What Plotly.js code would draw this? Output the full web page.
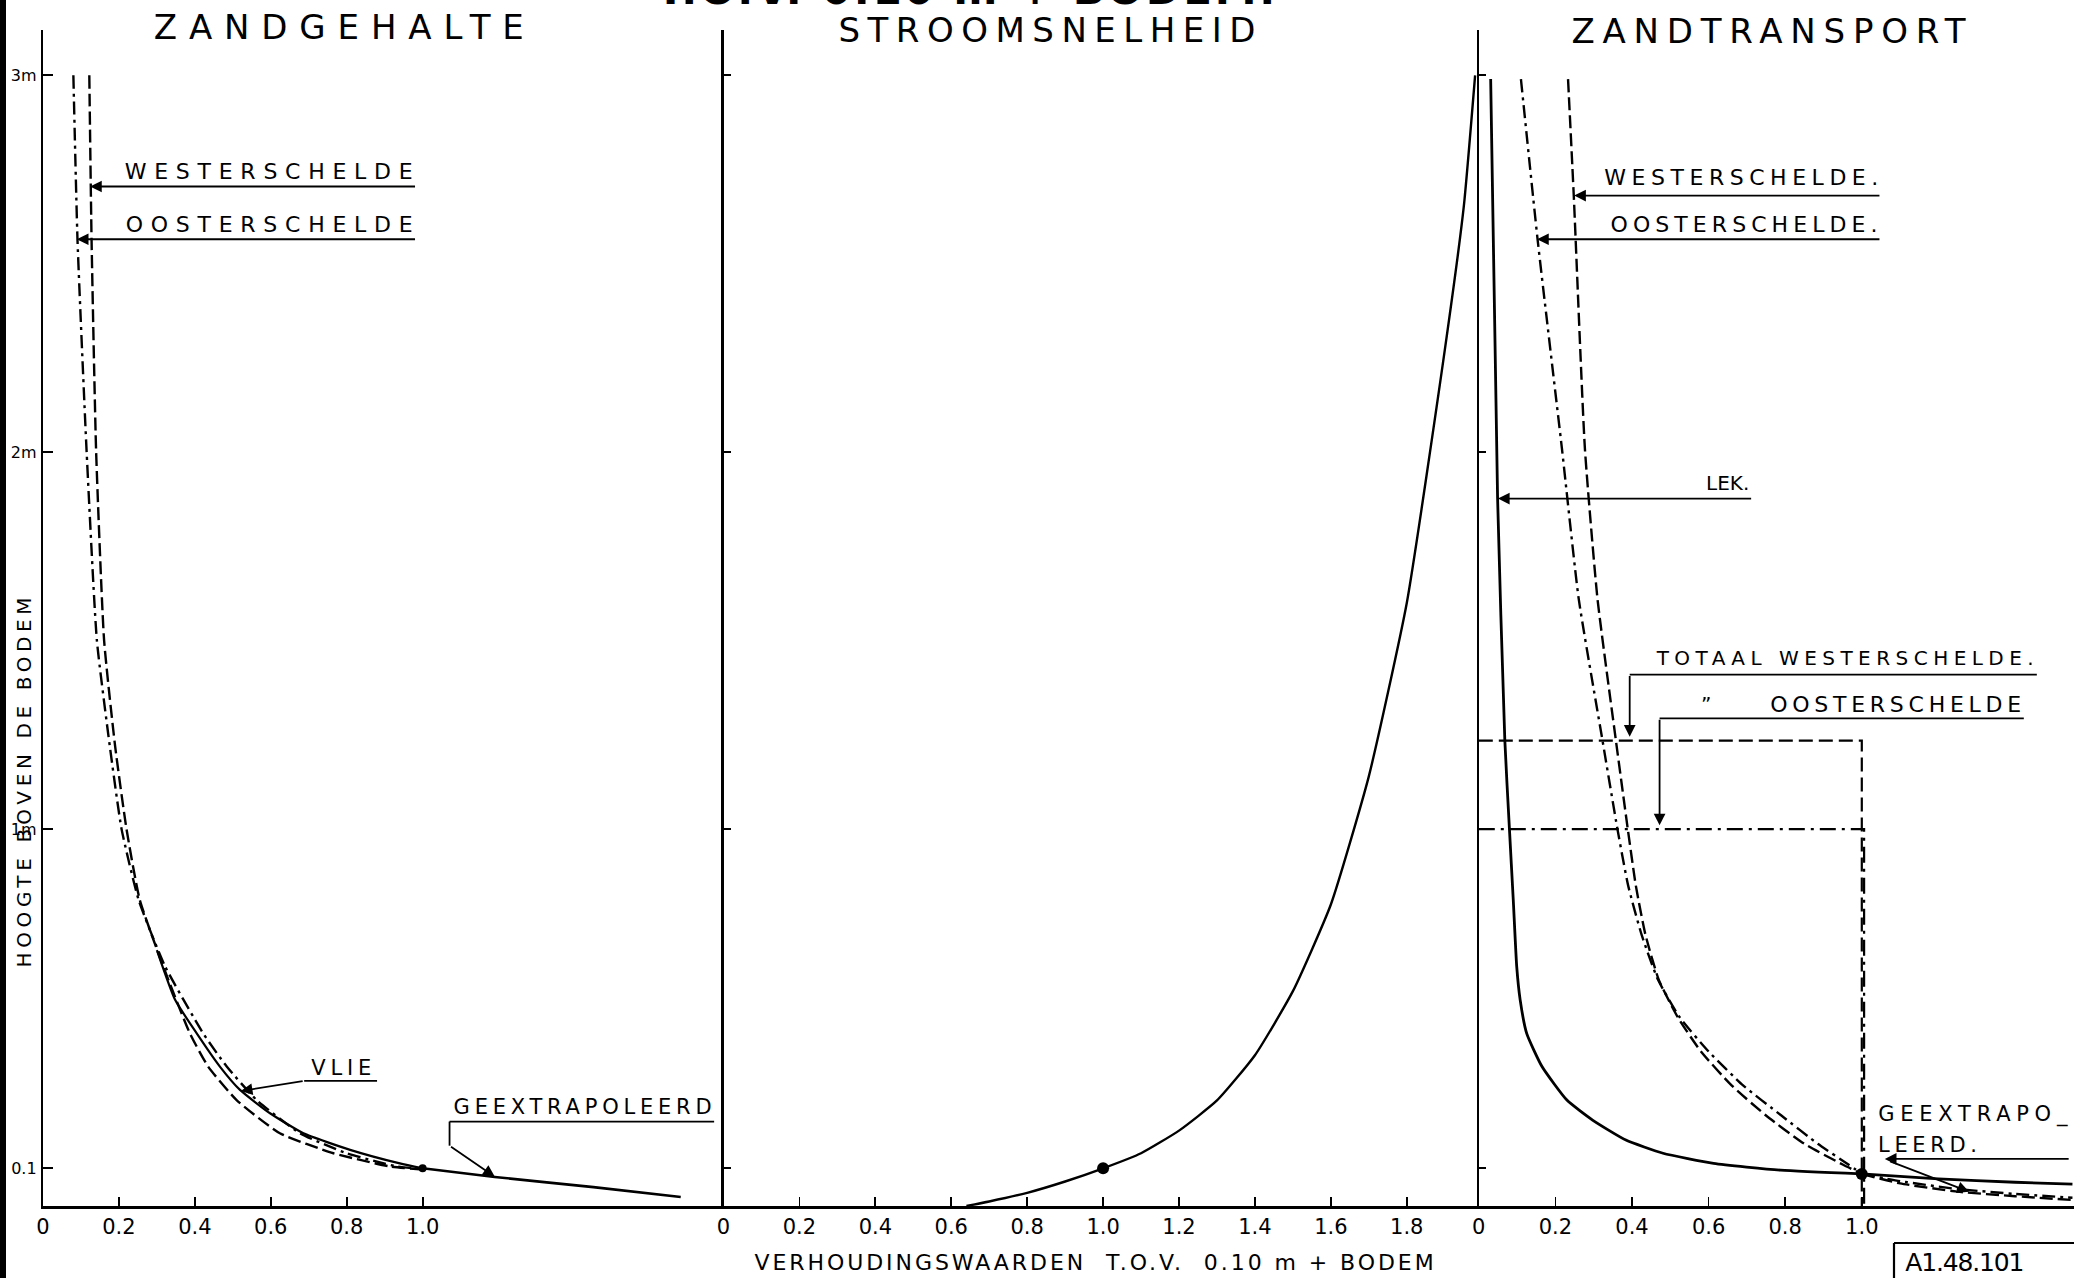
<!DOCTYPE html>
<html><head><meta charset="utf-8">
<script src="https://cdn.plot.ly/plotly-3.0.1.min.js"></script>
<style>html,body{margin:0;padding:0;background:#fff;overflow:hidden}#chart{width:2074px;height:1278px}</style>
</head><body><div id="chart"></div>
<script>
// ---------- DATA ----------
// Zandgehalte (relative to value at 0.10 m above bed)
const zgWestX = [0.122,0.128,0.140,0.161,0.190,0.220,0.255,0.317,0.387,0.435,0.510,0.624,0.765,0.914,1.000];
const zgWestY = [3.00,2.56,2.00,1.50,1.22,1.00,0.812,0.635,0.458,0.370,0.281,0.193,0.140,0.105,0.097];
const zgOostX = [0.080,0.091,0.115,0.142,0.176,0.207,0.252,0.322,0.422,0.484,0.563,0.677,0.800,0.932,1.000];
const zgOostY = [3.00,2.56,2.00,1.50,1.22,1.00,0.812,0.635,0.458,0.370,0.281,0.193,0.140,0.105,0.098];
const zgVlieX = [0.300,0.348,0.405,0.466,0.519,0.598,0.686,0.809,0.940,1.000];
const zgVlieY = [0.679,0.547,0.458,0.370,0.308,0.246,0.193,0.149,0.113,0.100];
const zgExtrX = [1.00,1.19,1.45,1.68];
const zgExtrY = [0.100,0.077,0.050,0.024];
// Stroomsnelheid
const ssX = [0.64,0.70,0.80,0.90,1.00,1.10,1.20,1.30,1.40,1.50,1.60,1.70,1.80,1.90,1.95,1.98];
const ssY = [0.000,0.012,0.035,0.065,0.100,0.140,0.200,0.280,0.400,0.570,0.800,1.140,1.600,2.270,2.650,3.000];
const ssRefX = [1.0], ssRefY = [0.1];
// Zandtransport
const ztLekX = [0.031,0.049,0.068,0.080,0.090,0.099,0.108,0.125,0.165,0.230,0.297,0.384,0.481,0.613,0.788,1.000];
const ztLekY = [2.99,1.88,1.235,1.00,0.812,0.635,0.547,0.458,0.370,0.281,0.228,0.175,0.140,0.113,0.095,0.085];
const ztWestX = [0.233,0.248,0.277,0.310,0.358,0.389,0.410,0.435,0.470,0.520,0.580,0.660,0.750,0.850,0.950,1.000];
const ztWestY = [2.99,2.68,2.01,1.61,1.235,1.00,0.85,0.72,0.60,0.50,0.41,0.32,0.24,0.165,0.110,0.085];
const ztOostX = [0.110,0.154,0.217,0.261,0.323,0.362,0.390,0.425,0.468,0.525,0.600,0.690,0.790,0.885,0.965,1.000];
const ztOostY = [2.99,2.56,2.01,1.61,1.235,1.00,0.85,0.72,0.60,0.50,0.41,0.32,0.24,0.165,0.110,0.085];
const ztLekExtX = [1.00,1.20,1.40,1.55];
const ztLekExtY = [0.085,0.072,0.063,0.058];
const ztWestExtX = [1.00,1.10,1.25,1.40,1.55];
const ztWestExtY = [0.085,0.060,0.038,0.026,0.016];
const ztOostExtX = [1.00,1.10,1.25,1.40,1.55];
const ztOostExtY = [0.085,0.066,0.045,0.032,0.022];
const totWestX = [0,1.0,1.0], totWestY = [1.235,1.235,0];
const totOostX = [0,1.006,1.006], totOostY = [1.0,1.0,0];
const ztRefX = [1.0], ztRefY = [0.085];
// Ticks
const zgTickVals = [0,0.2,0.4,0.6,0.8,1.0];
const zgTickText = ['0','0.2','0.4','0.6','0.8','1.0'];
const ssTickVals = [0,0.2,0.4,0.6,0.8,1.0,1.2,1.4,1.6,1.8];
const ssTickText = ['0','0.2','0.4','0.6','0.8','1.0','1.2','1.4','1.6','1.8'];
const ztTickVals = [0,0.2,0.4,0.6,0.8,1.0];
const ztTickText = ['0','0.2','0.4','0.6','0.8','1.0'];
const yTickVals = [0.1,1,2,3];
const yTickText = ['0.1','1m','2m','3m'];
// Texts
const panelTitles = ['ZANDGEHALTE','STROOMSNELHEID','ZANDTRANSPORT'];
const topTitle = 'T.O.V. 0.10 m + BODEM.';
const yTitle = 'HOOGTE BOVEN DE BODEM';
const xTitle = 'VERHOUDINGSWAARDEN  T.O.V.  0.10 m + BODEM';
const codeLabel = 'A1.48.101';

// ---------- LAYOUT GEOMETRY ----------
const W=2074,H=1278,ML=43,MR=0,MT=30,MB=72;
const PW=W-ML-MR, PH=H-MT-MB;
const X2PX=723.5, X3PX=1478.8, S12=379.6, S3=383, SY=376.9;
const d2=(X2PX-ML)/PW, d3=(X3PX-ML)/PW;
const px = xf => (xf-ML)/PW;
const py = yf => (H-MB-yf)/PH;
const FONT='DejaVu Sans, sans-serif';
const DASH='13px,5px', DASHDOT='13px,5px,3px,5px';

function tr(x,y,xa,ya,dash,w){return {x:x,y:y,xaxis:xa,yaxis:ya,mode:'lines',line:{color:'#000',width:w||2.4,dash:dash||'solid',shape:'spline',smoothing:0.5},hoverinfo:'skip'};}
function dot(x,y,xa,ya,s){return {x:x,y:y,xaxis:xa,yaxis:ya,mode:'markers',marker:{color:'#000',size:s},hoverinfo:'skip'};}

const data = [
  tr(zgWestX,zgWestY,'x','y',DASH,2.4),
  tr(zgOostX,zgOostY,'x','y',DASHDOT,2.4),
  tr(zgVlieX,zgVlieY,'x','y','solid',2.2),
  tr(zgExtrX,zgExtrY,'x','y','solid',2.6),
  dot([1.0],[0.1],'x','y',8),
  tr(ssX,ssY,'x2','y2','solid',2.4),
  dot(ssRefX,ssRefY,'x2','y2',12),
  tr(ztLekX,ztLekY,'x3','y3','solid',2.8),
  tr(ztWestX,ztWestY,'x3','y3',DASH,2.4),
  tr(ztOostX,ztOostY,'x3','y3',DASHDOT,2.4),
  tr(ztLekExtX,ztLekExtY,'x3','y3','solid',2.8),
  tr(ztWestExtX,ztWestExtY,'x3','y3',DASH,2.4),
  tr(ztOostExtX,ztOostExtY,'x3','y3',DASHDOT,2.4),
  {x:totWestX,y:totWestY,xaxis:'x3',yaxis:'y3',mode:'lines',line:{color:'#000',width:2.2,dash:'14px,6px'},hoverinfo:'skip'},
  {x:totOostX,y:totOostY,xaxis:'x3',yaxis:'y3',mode:'lines',line:{color:'#000',width:2.2,dash:'16px,6px,3px,6px'},hoverinfo:'skip'},
  dot(ztRefX,ztRefY,'x3','y3',12)
];

function xax(dom,range,vals,text,anchor){return {domain:dom,range:range,anchor:anchor,showline:true,linecolor:'#000',linewidth:3,
  ticks:'inside',ticklen:9,tickwidth:1.8,tickcolor:'#000',tickvals:vals,ticktext:text,showgrid:false,zeroline:false,fixedrange:true,
  tickfont:{family:FONT,size:21,color:'#000'},ticklabelstandoff:0};}
function yax(anchor,labels){return {domain:[0,1],range:[0,PH/SY],anchor:anchor,showline:true,linecolor:'#000',linewidth:2.2,
  ticks:'inside',ticklen:labels?10:7,tickwidth:1.8,tickcolor:'#000',tickvals:yTickVals,ticktext:yTickText,showticklabels:!!labels,
  showgrid:false,zeroline:false,fixedrange:true,tickfont:{family:FONT,size:16,color:'#000'},ticklabelstandoff:1};}

// text labels: [text, xref, yref, x, y, size, targetWidthPx, angle, bold]
const texts = [
  [panelTitles[0],'paper','paper',px(344),py(27),34,370],
  [panelTitles[1],'paper','paper',px(1051),py(30),34,417],
  [panelTitles[2],'paper','paper',px(1772),py(31),34,394],
  [topTitle,'paper','paper',px(967),py(-10),42,619,0,true],
  [yTitle,'paper','paper',px(24),py(780),20,370,-90],
  [xTitle,'paper','paper',px(1095),py(1262),22,679],
  [codeLabel,'paper','paper',px(1964),py(1262),25,119],
  ['WESTERSCHELDE','x','y',0.605,2.745,22,288],
  ['OOSTERSCHELDE','x','y',0.605,2.605,22,287],
  ['VLIE','x','y',0.793,0.367,21,60],
  ['GEEXTRAPOLEERD','x','y',1.427,0.262,21,258],
  ['WESTERSCHELDE.','x3','y3',0.692,2.73,22,274],
  ['OOSTERSCHELDE.','x3','y3',0.700,2.605,22,267],
  ['LEK.','x3','y3',0.650,1.918,20,0],
  ['TOTAAL WESTERSCHELDE.','x3','y3',0.963,1.455,20,377],
  ['\u201D','x3','y3',0.594,1.331,20,0],
  ['OOSTERSCHELDE','x3','y3',1.095,1.331,22,251],
  ['GEEXTRAPO_','x3','y3',1.297,0.243,21,189],
  ['LEERD.','x3','y3',1.179,0.162,21,99]
];
const annotations = texts.map(t=>({text:t[0],xref:t[1],yref:t[2],x:t[3],y:t[4],showarrow:false,xanchor:'center',yanchor:'middle',
  textangle:t[7]||0,font:{family:FONT,size:t[5],color:'#000',weight:t[8]?'bold':'normal'}}));
const widths = texts.map(t=>t[6]);

function arrow(xr,yr,hx,hy,tx,ty){return {xref:xr,yref:yr,axref:xr,ayref:yr,x:hx,y:hy,ax:tx,ay:ty,text:'',showarrow:true,
  arrowhead:2,arrowsize:1.3,arrowwidth:1.8,arrowcolor:'#000',standoff:0,startstandoff:0};}
annotations.push(
  arrow('x','y',0.124,2.705,0.984,2.705),
  arrow('x','y',0.089,2.565,0.984,2.565),
  arrow('x','y',0.521,0.305,0.688,0.332),
  arrow('x','y',1.19,0.078,1.071,0.16),
  arrow('x3','y3',0.249,2.681,1.05,2.681),
  arrow('x3','y3',0.152,2.565,1.05,2.565),
  arrow('x3','y3',0.050,1.877,0.715,1.877),
  arrow('x3','y3',0.394,1.245,0.394,1.41),
  arrow('x3','y3',0.472,1.01,0.472,1.294),
  arrow('x3','y3',1.06,0.125,1.544,0.125),
  arrow('x3','y3',1.28,0.038,1.07,0.12)
);

function seg(xr,yr,x0,y0,x1,y1,w){return {type:'line',xref:xr,yref:yr,x0:x0,y0:y0,x1:x1,y1:y1,line:{color:'#000',width:w||1.8}};}
const shapes = [
  {type:'rect',xref:'paper',yref:'paper',x0:px(0),x1:px(6),y0:py(H),y1:py(0),fillcolor:'#000',line:{width:0}},
  seg('x','y',0.688,0.332,0.88,0.332),
  seg('x','y',1.071,0.224,1.768,0.224),
  seg('x','y',1.071,0.224,1.071,0.16),
  seg('x3','y3',0.394,1.41,1.457,1.41),
  seg('x3','y3',0.472,1.294,1.423,1.294),
  seg('paper','paper',px(1894),py(1243),px(W),py(1243),2.2),
  seg('paper','paper',px(1894),py(1243),px(1894),py(H),2.2)
];

const layout = {
  width:W,height:H,margin:{l:ML,r:MR,t:MT,b:MB,pad:0},paper_bgcolor:'#fff',plot_bgcolor:'rgba(0,0,0,0)',
  showlegend:false,hovermode:false,
  xaxis:xax([0,d2],[0,(X2PX-ML)/S12],zgTickVals,zgTickText,'y'),
  xaxis2:xax([d2,d3],[0,(X3PX-X2PX)/S12],ssTickVals,ssTickText,'y2'),
  xaxis3:xax([d3,1],[0,(W-MR-X3PX)/S3],ztTickVals,ztTickText,'y3'),
  yaxis:yax('x',true), yaxis2:yax('x2',false), yaxis3:yax('x3',false),
  annotations:annotations, shapes:shapes
};

Plotly.newPlot('chart',data,layout,{staticPlot:true,displayModeBar:false}).then(()=>{
  document.querySelectorAll('g.annotation').forEach((g,k)=>{
    const idx = g.hasAttribute('data-index') ? +g.getAttribute('data-index') : k;
    const tw = widths[idx]; if(!tw) return;
    const t = g.querySelector('text.annotation-text'); if(!t) return;
    const n = t.textContent.length; if(n<2) return;
    const len = t.getComputedTextLength();
    const ls = (tw-len)/(n-1);
    t.style.letterSpacing = ls.toFixed(2)+'px';
  });
});
</script></body></html>
